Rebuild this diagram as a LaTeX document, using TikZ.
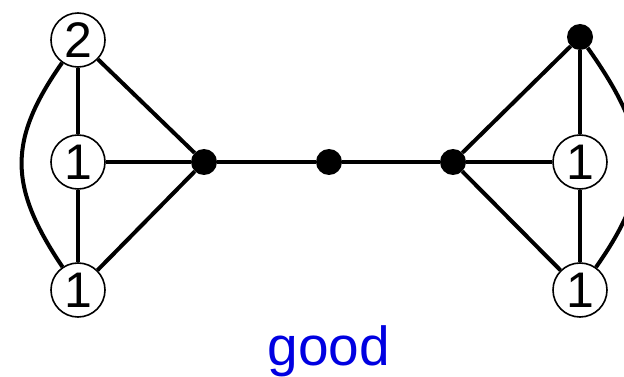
\documentclass[tikz,border=0pt]{standalone}
\usepackage{fontspec}
\setmainfont{Liberation Sans}
\definecolor{goodblue}{RGB}{0,0,225}
\begin{document}
\begin{tikzpicture}[x=1pt,y=-1pt,
  vtx/.style={circle,draw=black,line width=1.6pt,fill=white,minimum size=54pt,inner sep=0pt,font=\fontsize{50}{50}\selectfont},
  dot/.style={circle,fill=black,minimum size=26pt,inner sep=0pt},
  edge/.style={line width=4pt}]
\clip (0,0) rectangle (624,377);
\node[vtx] (a) at (78,40) {2};
\node[vtx] (b) at (78,162) {1};
\node[vtx] (c) at (78,290) {1};
\node[dot] (d) at (204,162) {};
\node[dot] (m) at (329,162) {};
\node[dot] (e) at (453,162) {};
\node[dot] (t) at (580,37) {};
\node[vtx] (f) at (580,162) {1};
\node[vtx] (g) at (580,290) {1};
\node[text=goodblue,font=\fontsize{55}{55}\selectfont,anchor=base] (lab) at (329,365) {good};
\draw[edge] (a) -- (b);
\draw[edge] (b) -- (c);
\draw[edge] (a) -- (d);
\draw[edge] (b) -- (d);
\draw[edge] (c) -- (d);
\draw[edge] (d) -- (m);
\draw[edge] (m) -- (e);
\draw[edge] (e) -- (t);
\draw[edge] (e) -- (f);
\draw[edge] (e) -- (g);
\draw[edge] (t) -- (f);
\draw[edge] (f) -- (g);
\draw[edge] (a) .. controls (8,140) and (8,186) .. (c);
\draw[edge] (t) .. controls (653,140) and (653,186) .. (g);
\end{tikzpicture}
\end{document}
